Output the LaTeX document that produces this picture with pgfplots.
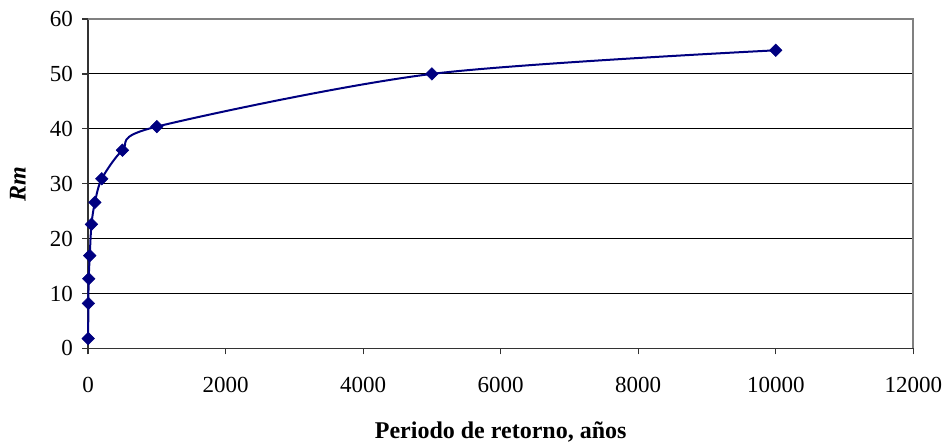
\documentclass[border=0pt]{standalone}
\usepackage{fontspec}
\setmainfont{Liberation Serif}
\usepackage{pgfplots}
\pgfplotsset{compat=1.18}
\definecolor{navy}{RGB}{0,0,128}
\begin{document}
\begin{tikzpicture}
\useasboundingbox (-44pt,-48.85pt) rectangle (428.85pt,174.15pt);
\begin{axis}[
  at={(0,0)}, anchor=origin,
  scale only axis,
  width=412.5pt, height=164.65pt,
  xmin=0, xmax=12000, ymin=0, ymax=60,
  clip=false,
  scaled x ticks=false,
  axis lines=left,
  axis line style={-, black!80, line width=0.7pt},
  xtick={0,2000,4000,6000,8000,10000,12000},
  xticklabels={0,2000,4000,6000,8000,10000,12000},
  ytick={0,10,20,30,40,50,60},
  yticklabels={0,10,20,30,40,50,60},
  tick align=outside,
  major tick length=3pt,
  tick style={black!80, line width=0.6pt},
  ymajorgrids,
  major grid style={black, line width=0.5pt},
  tick label style={font=\fontsize{11.5}{13}\selectfont},
  xticklabel style={yshift=-8pt},
  yticklabel style={xshift=-1pt},
  xlabel={\textbf{Periodo de retorno, años}},
  ylabel={\textbf{\textit{Rm}}},
  label style={font=\fontsize{12}{14}\selectfont},
  xlabel style={at={(axis description cs:0.5,-0.255)}, anchor=center},
  ylabel style={at={(axis description cs:-0.085,0.5)}, anchor=center, rotate=0},
]
\addplot[navy, line width=1pt, smooth, tension=0.5, mark=square*, mark size=2.2pt, mark options={rotate=45, fill=navy, draw=navy, line width=0.3pt}]
coordinates {
(2,1.8) (5,8.2) (10,12.7) (25,16.9) (50,22.6) (100,26.6) (200,30.9) (500,36.1) (1000,40.4) (5000,50.0) (10000,54.3)
};
\draw[gray, line width=0.9pt] (rel axis cs:0,1) -- (rel axis cs:1,1) -- (rel axis cs:1,0);
\end{axis}
\end{tikzpicture}
\end{document}
